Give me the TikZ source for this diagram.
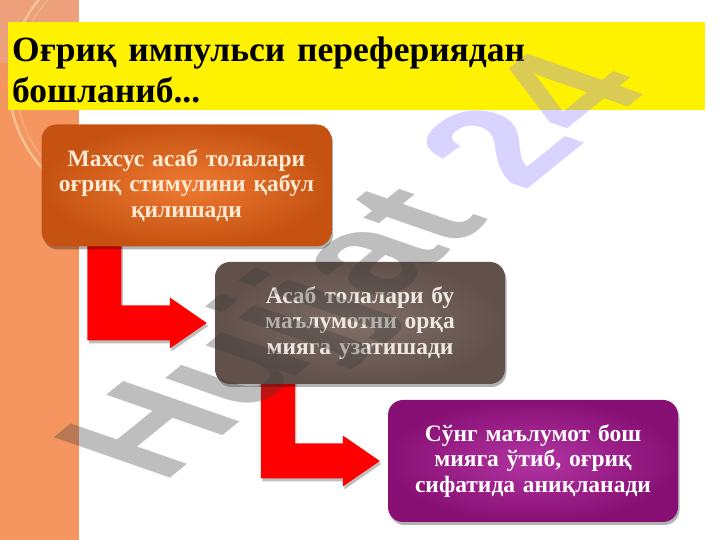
\documentclass[tikz,border=0pt]{standalone}
\usepackage{fontspec}
\setmainfont{Liberation Serif}
\newfontfamily\wmfont{Liberation Sans}
\usetikzlibrary{calc,shadows}
\pgfdeclarelayer{bottom}
\pgfdeclarelayer{behind}
\pgfsetlayers{bottom,behind,main}
\definecolor{stripc}{RGB}{245,150,96}
\definecolor{striptop}{RGB}{236,160,124}
\definecolor{arcc}{RGB}{242,205,160}
\definecolor{arrowred}{RGB}{255,0,0}
\definecolor{bAin}{RGB}{238,122,50}
\definecolor{bAout}{RGB}{198,82,18}
\definecolor{bBin}{RGB}{128,110,103}
\definecolor{bBout}{RGB}{98,80,75}
\definecolor{bCin}{RGB}{178,52,162}
\definecolor{bCout}{RGB}{136,16,116}
\definecolor{tA}{RGB}{255,234,212}
\definecolor{tB}{RGB}{238,232,226}
\definecolor{wmgray}{RGB}{60,60,60}
\definecolor{wmlav}{RGB}{141,126,255}
\newcommand{\bentarrow}[2]{%
  \path[arrowshape] let \p1=(#1.south west), \p2=(#2.west) in
    (\x1+46pt,\y1+4pt) -- (\x1+80pt,\y1+4pt) -- (\x1+80pt,\y2+17.5pt)
    -- (\x2-45pt,\y2+17.5pt) -- (\x2-45pt,\y2+25.5pt) -- (\x2-8pt,\y2)
    -- (\x2-45pt,\y2-25.5pt) -- (\x2-45pt,\y2-17.5pt) -- (\x1+46pt,\y2-17.5pt) -- cycle;}
\begin{document}
\begin{tikzpicture}[x=1pt,y=1pt,
  box/.style={rounded corners=15pt, minimum width=290pt, minimum height=122pt,
    text width=280pt, align=center, inner sep=0pt, shading=radial,
    font=\bfseries\fontsize{23.5}{25.5}\selectfont,
    drop shadow={shadow xshift=1.5pt, shadow yshift=-3pt, opacity=0.3, fill=black}},
  arrowshape/.style={fill=arrowred,
    drop shadow={shadow xshift=1.5pt, shadow yshift=-3pt, opacity=0.25, fill=black}},
  titletext/.style={font=\bfseries\fontsize{35.5}{41}\selectfont, text width=689pt, align=left, inner sep=0pt}]
\useasboundingbox (0,0) rectangle (720,540);
\begin{pgfonlayer}{bottom}
\fill[white] (0,0) rectangle (720,540);
\fill[stripc] (0,0) rectangle (79,540);
\fill[striptop] (0,477) rectangle (79,540);
\begin{scope}
  \clip (0,0) rectangle (79,540);
  \draw[arcc, line width=2.5pt, opacity=0.8] (137,458) circle[radius=128pt];
  \draw[arcc, line width=1pt, opacity=0.6] (137,458) circle[radius=121pt];
\end{scope}
\end{pgfonlayer}
% title banner
\fill[yellow] (8,430) rectangle (705,518);
\node (title) [titletext, anchor=base west] at (12,478) {Оғриқ импульси перефериядан\\бошланиб...};
% boxes
\node (b1) [box, inner color=bAin, outer color=bAout, text=tA] at (186.5,354.5)
  {Махсус асаб толалари\\оғриқ стимулини қабул\\қилишади};
\node (b2) [box, inner color=bBin, outer color=bBout, text=tB] at (360,217)
  {Асаб толалари бу\\маълумотни орқа\\мияга узатишади};
\node (b3) [box, inner color=bCin, outer color=bCout, text=white] at (533,79)
  {Сўнг маълумот бош\\мияга ўтиб, оғриқ\\сифатида аниқланади};
% arrows behind boxes
\begin{pgfonlayer}{behind}
\bentarrow{b1}{b2}
\bentarrow{b2}{b3}
\end{pgfonlayer}
% watermark
\node (wm) [font=\wmfont\bfseries\fontsize{152}{152}\selectfont, rotate=39, xslant=-0.62,
  transform shape, text height=109pt, text depth=0pt, inner sep=0pt, opacity=0.33]
  at (348,276) {\textcolor{wmgray}{Hujjat} \textcolor{wmlav}{24}};
\end{tikzpicture}
\end{document}
